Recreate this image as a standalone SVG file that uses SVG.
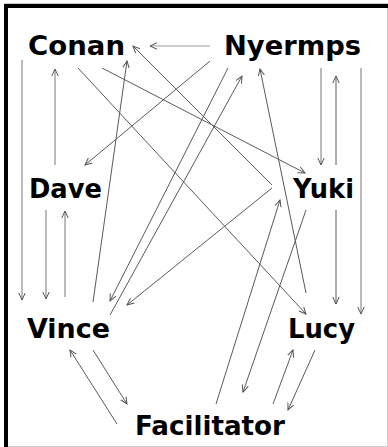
<svg xmlns="http://www.w3.org/2000/svg" width="388" height="447" viewBox="0 0 388 447">
<style>
.lbl{font-family:"DejaVu Sans","Verdana",sans-serif;font-weight:bold;font-size:27px;fill:#000}
.c line{stroke:#5a5a5a;stroke-width:1;fill:none;marker-end:url(#ah)}
.c line.lt{stroke:#9a9a9a}
.c line.md{stroke:#777}
</style>
<defs>
<marker id="ah" markerUnits="userSpaceOnUse" markerWidth="12" markerHeight="10" refX="7" refY="5" orient="auto">
<path d="M0,1.8 L7,5 L0,8.2" fill="none" stroke="#555" stroke-width="1"/>
</marker>
</defs>
<rect x="0" y="0" width="388" height="447" fill="#fff"/>
<rect x="4.5" y="3.5" width="383" height="443" fill="none" stroke="#ccc" stroke-width="1"/>
<line x1="6" y1="4" x2="6" y2="447" stroke="#000" stroke-width="4"/>
<line x1="4" y1="6" x2="388" y2="6" stroke="#000" stroke-width="4"/>
<g class="c" id="connectors">
<line class="lt" x1="210" y1="46" x2="150" y2="46"/>
<line class="md" x1="22" y1="60" x2="22" y2="300"/>
<line class="md" x1="55" y1="165" x2="55" y2="69"/>
<line class="md" x1="46" y1="210" x2="46" y2="299"/>
<line class="md" x1="65" y1="297" x2="65" y2="211"/>
<line x1="78" y1="68" x2="306" y2="314"/>
<line x1="102" y1="68" x2="305" y2="173"/>
<line x1="93" y1="302" x2="127" y2="61"/>
<line x1="210" y1="61" x2="85" y2="165"/>
<line x1="272" y1="185" x2="133" y2="46"/>
<line x1="272" y1="188" x2="127" y2="305"/>
<line x1="228" y1="68" x2="110" y2="301"/>
<line x1="110" y1="315" x2="242" y2="76"/>
<line x1="306" y1="293" x2="260" y2="69"/>
<line class="md" x1="321" y1="68" x2="321" y2="165"/>
<line x1="336" y1="165" x2="336" y2="76"/>
<line x1="336" y1="210" x2="336" y2="304"/>
<line class="md" x1="361" y1="68" x2="361" y2="314"/>
<line x1="216" y1="404" x2="280" y2="200"/>
<line x1="306" y1="210" x2="243" y2="392"/>
<line x1="273" y1="404" x2="293" y2="350"/>
<line x1="315" y1="350" x2="288" y2="410"/>
<line x1="117" y1="424" x2="70" y2="350"/>
<line x1="93" y1="350" x2="127" y2="404"/>
</g>
<g id="conan"><text class="lbl" x="28" y="55" textLength="97" lengthAdjust="spacingAndGlyphs">Conan</text></g>
<g id="nyermps"><text class="lbl" x="224" y="55" textLength="137" lengthAdjust="spacingAndGlyphs">Nyermps</text></g>
<g id="dave"><text class="lbl" x="29" y="198" textLength="73" lengthAdjust="spacingAndGlyphs">Dave</text></g>
<g id="yuki"><text class="lbl" x="293" y="198" textLength="61" lengthAdjust="spacingAndGlyphs">Yuki</text></g>
<g id="vince"><text class="lbl" x="27" y="338" textLength="83" lengthAdjust="spacingAndGlyphs">Vince</text></g>
<g id="lucy"><text class="lbl" x="288" y="338" textLength="67" lengthAdjust="spacingAndGlyphs">Lucy</text></g>
<g id="facilitator"><text class="lbl" x="135" y="435" textLength="150" lengthAdjust="spacingAndGlyphs">Facilitator</text></g>
</svg>
